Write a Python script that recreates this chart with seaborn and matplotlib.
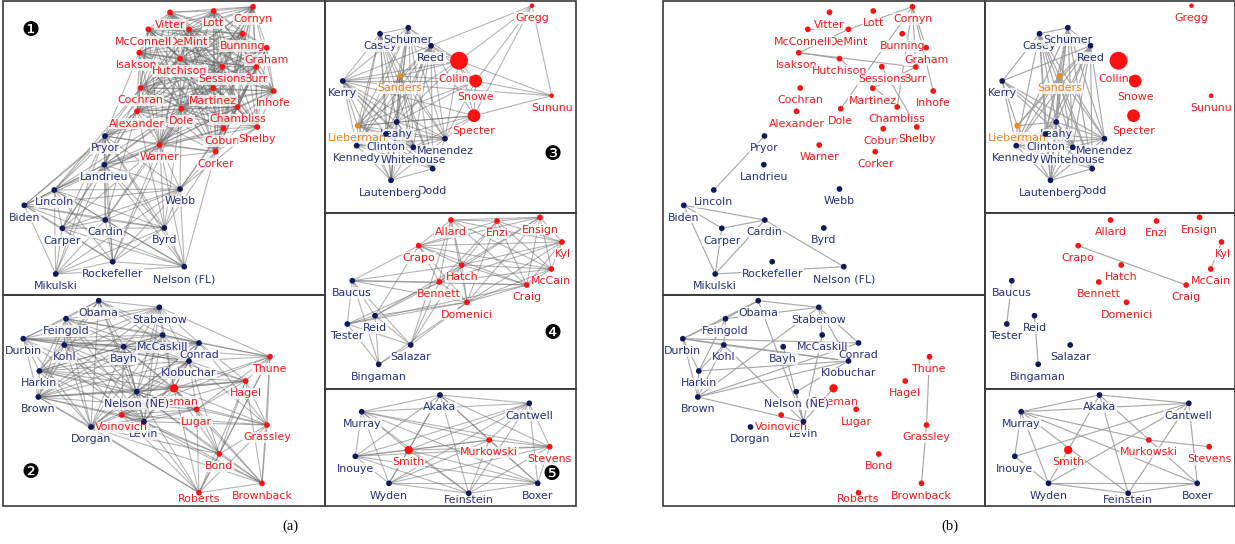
import matplotlib
matplotlib.use("Agg")
import matplotlib.pyplot as plt
import seaborn as sns
import pandas as pd
from itertools import combinations
from matplotlib.collections import LineCollection
from matplotlib.patches import Rectangle

# ---------------------------------------------------------------- node layout
# every cluster: names, x, y (layout units), party  (D / R / I)
c1_names = ["Vitter", "Lott", "Cornyn", "DeMint", "McConnell", "Bunning", "Graham",
            "Isakson", "Hutchison", "Burr", "Sessions", "Cochran", "Martinez", "Inhofe",
            "Alexander", "Dole", "Chambliss", "Coburn", "Shelby", "Warner", "Corker",
            "Pryor", "Landrieu", "Webb", "Lincoln", "Biden", "Cardin", "Carper", "Byrd",
            "Rockefeller", "Nelson (FL)", "Mikulski"]
c1_x = [170.0, 213.7, 253.0, 189.0, 148.3, 242.7, 266.7, 139.3, 180.0, 256.3, 222.3,
        140.7, 213.3, 273.7, 137.0, 181.3, 237.7, 223.7, 257.3, 159.7, 215.7,
        105.0, 104.3, 180.0, 54.3, 24.3, 105.3, 62.3, 164.3, 112.7, 184.3, 55.7]
c1_y = [12.3, 11.0, 6.7, 29.3, 29.3, 33.7, 47.7, 52.7, 58.7, 67.0, 66.7, 88.0, 88.3,
        91.0, 111.3, 108.7, 107.0, 128.7, 127.0, 145.0, 151.7,
        136.0, 164.7, 189.0, 190.0, 205.3, 220.0, 228.3, 228.0, 261.7, 266.7, 274.0]
c1_party = ["R"] * 21 + ["D"] * 11

c2_names = ["Obama", "Stabenow", "Feingold", "McCaskill", "Durbin", "Kohl", "Bayh",
            "Conrad", "Klobuchar", "Harkin", "Coleman", "Nelson (NE)", "Brown", "Levin",
            "Voinovich", "Dorgan", "Thune", "Hagel", "Lugar", "Grassley", "Bond",
            "Brownback", "Roberts"]
c2_x = [98.7, 159.3, 66.0, 162.7, 23.3, 64.3, 123.7, 199.0, 189.0, 39.3, 174.0, 136.7,
        38.3, 144.0, 121.7, 91.0, 270.0, 245.7, 196.7, 267.0, 219.3, 262.0, 199.0]
c2_y = [300.7, 307.3, 318.7, 335.0, 338.7, 345.0, 346.7, 343.0, 361.0, 371.0, 388.3,
        391.7, 397.0, 421.7, 415.0, 427.0, 356.7, 381.0, 409.3, 425.0, 454.0, 483.3, 492.7]
c2_party = ["D"] * 10 + ["R"] + ["D"] * 3 + ["R"] + ["D"] + ["R"] * 7

c3_names = ["Gregg", "Casey", "Schumer", "Reed", "Collins", "Snowe", "Sununu", "Kerry",
            "Sanders", "Specter", "Leahy", "Lieberman", "Clinton", "Menendez",
            "Whitehouse", "Kennedy", "Dodd", "Lautenberg"]
c3_x = [532.0, 380.0, 408.3, 431.0, 459.0, 475.7, 551.7, 342.7, 400.0, 474.0, 396.7,
        357.7, 386.0, 445.0, 413.3, 356.7, 432.7, 391.0]
c3_y = [5.7, 33.7, 27.7, 45.7, 60.7, 81.0, 95.7, 81.0, 76.0, 115.7, 122.0, 125.7,
        134.0, 138.7, 147.3, 145.7, 168.7, 180.3]
c3_party = ["R", "D", "D", "D", "R", "R", "R", "D", "I", "R", "D", "I", "D", "D",
            "D", "D", "D", "D"]

c4_names = ["Allard", "Enzi", "Ensign", "Kyl", "Crapo", "Hatch", "McCain", "Bennett",
            "Craig", "Domenici", "Baucus", "Reid", "Tester", "Salazar", "Bingaman"]
c4_x = [451.0, 497.0, 540.0, 562.0, 418.7, 461.7, 551.3, 439.3, 526.7, 467.0,
        352.3, 375.0, 347.3, 410.7, 378.7]
c4_y = [220.0, 221.0, 217.3, 242.0, 245.7, 265.0, 269.0, 282.0, 285.0, 302.3,
        280.7, 315.7, 324.0, 345.0, 364.3]
c4_party = ["R"] * 10 + ["D"] * 5

c5_names = ["Akaka", "Cantwell", "Murray", "Murkowski", "Stevens", "Smith", "Inouye",
            "Wyden", "Feinstein", "Boxer"]
c5_x = [440.0, 529.3, 361.7, 489.3, 549.7, 408.7, 355.3, 389.0, 468.7, 537.7]
c5_y = [395.0, 403.3, 411.7, 440.0, 446.7, 450.0, 456.3, 483.3, 493.3, 483.3]
c5_party = ["D", "D", "D", "R", "R", "R", "D", "D", "D", "D"]

# node weight classes (drawn as dot size)
node_weight = {"Collins": "xl", "Snowe": "l", "Specter": "l", "Coleman": "m",
               "Smith": "m", "Gregg": "s", "Sununu": "s"}

# ---------------------------------------------------------------- edges
def clique(names):
    return list(combinations(names, 2))

def star(hub, others):
    return [(hub, o) for o in others]

reds1 = c1_names[:21]
blues1 = c1_names[21:]
edges_a = (clique(reds1) + clique(blues1)
           + star("Pryor", ["Alexander", "Cochran", "Dole", "Warner", "Isakson", "Martinez",
                            "Chambliss", "Hutchison", "Corker"])
           + star("Landrieu", ["Alexander", "Cochran", "Dole", "Warner", "Corker", "Coburn",
                               "Martinez", "Chambliss"])
           + star("Webb", ["Warner", "Corker", "Shelby", "Coburn", "Dole", "Chambliss"])
           + star("Lincoln", ["Alexander", "Cochran", "Warner", "Dole"])
           + star("Biden", ["Alexander", "Warner"])
           + star("Byrd", ["Warner", "Dole", "Corker", "Alexander"])
           + star("Cardin", ["Warner", "Dole", "Alexander"])
           + star("Carper", ["Warner", "Alexander"])
           + star("Nelson (FL)", ["Warner", "Corker"])
           + star("Rockefeller", ["Warner", "Dole"]))

blues2 = ["Obama", "Stabenow", "Feingold", "McCaskill", "Durbin", "Kohl", "Bayh", "Conrad",
          "Klobuchar", "Harkin", "Nelson (NE)", "Brown", "Levin", "Dorgan"]
reds2 = ["Coleman", "Voinovich", "Thune", "Hagel", "Lugar", "Grassley", "Bond",
         "Brownback", "Roberts"]
edges_a += (clique(blues2) + clique(reds2)
            + star("Thune", ["Conrad", "Stabenow", "McCaskill", "Durbin", "Klobuchar"])
            + star("Hagel", ["Klobuchar", "Conrad", "Nelson (NE)", "Harkin", "Brown", "Bayh"])
            + star("Coleman", ["Klobuchar", "Conrad", "Nelson (NE)", "Bayh", "McCaskill",
                               "Levin", "Dorgan", "Harkin", "Kohl", "Brown", "Stabenow"])
            + star("Lugar", ["Nelson (NE)", "Levin", "Bayh", "Klobuchar", "Dorgan", "Brown",
                             "Harkin"])
            + star("Voinovich", ["Nelson (NE)", "Levin", "Dorgan", "Brown", "Bayh",
                                 "Klobuchar", "Kohl"])
            + star("Grassley", ["Klobuchar", "Conrad", "Nelson (NE)", "Levin"])
            + star("Bond", ["Dorgan", "Nelson (NE)", "Levin", "Klobuchar"])
            + star("Roberts", ["Dorgan", "Nelson (NE)", "Levin", "Brown"])
            + star("Brownback", ["Nelson (NE)", "Levin", "Dorgan"]))

dems3 = ["Casey", "Schumer", "Reed", "Kerry", "Sanders", "Leahy", "Lieberman", "Clinton",
         "Menendez", "Whitehouse", "Kennedy", "Dodd", "Lautenberg"]
edges_a += (clique(dems3)
            + clique(["Collins", "Snowe", "Specter"])
            + star("Gregg", ["Collins", "Snowe", "Specter", "Sununu", "Reed"])
            + star("Sununu", ["Collins", "Snowe", "Specter", "Kerry"])
            + star("Collins", ["Reed", "Schumer", "Casey", "Kerry", "Sanders", "Leahy",
                               "Menendez", "Lieberman"])
            + star("Snowe", ["Kerry", "Reed", "Leahy", "Lieberman", "Menendez", "Sanders"])
            + star("Specter", ["Kerry", "Lieberman", "Leahy", "Menendez", "Whitehouse",
                               "Kennedy", "Reed"]))

edges_a += (clique(c4_names[:10]) + clique(c4_names[10:])
            + star("Baucus", ["Crapo", "Bennett", "Hatch", "Domenici", "Craig"])
            + star("Reid", ["Bennett", "Domenici", "Hatch", "Crapo"])
            + star("Tester", ["Bennett", "Domenici", "Craig"])
            + star("Salazar", ["Bennett", "Domenici", "Hatch", "Allard"])
            + star("Bingaman", ["Domenici"]))

edges_a += clique(c5_names)

edges_b = [("Cornyn", "DeMint"), ("Cornyn", "Graham"), ("Cornyn", "Burr"),
           ("Cornyn", "Inhofe"), ("Cornyn", "Chambliss"), ("Cornyn", "Dole"),
           ("McConnell", "DeMint"), ("Isakson", "Hutchison"), ("Isakson", "Burr"),
           ("Isakson", "DeMint"), ("Hutchison", "Chambliss"), ("Sessions", "Shelby"),
           ("Martinez", "Burr"), ("Pryor", "Lincoln"), ("Biden", "Cardin"),
           ("Biden", "Carper"), ("Biden", "Mikulski"), ("Carper", "Cardin"),
           ("Carper", "Mikulski"), ("Cardin", "Mikulski"), ("Cardin", "Nelson (FL)"),
           ("Mikulski", "Nelson (FL)"),
           ("Obama", "Feingold"), ("Obama", "Stabenow"), ("Obama", "Durbin"),
           ("Obama", "Levin"), ("Feingold", "Durbin"), ("Feingold", "Kohl"),
           ("Feingold", "Harkin"), ("Feingold", "Stabenow"), ("Durbin", "Kohl"),
           ("Durbin", "Harkin"), ("Durbin", "Brown"), ("Durbin", "Klobuchar"),
           ("Durbin", "Conrad"), ("Kohl", "Harkin"), ("Kohl", "Brown"), ("Kohl", "Levin"),
           ("Kohl", "Klobuchar"), ("Harkin", "Brown"), ("Harkin", "Klobuchar"),
           ("Brown", "Conrad"), ("Brown", "Stabenow"), ("Brown", "Levin"),
           ("Brown", "Klobuchar"), ("Stabenow", "Klobuchar"), ("Stabenow", "Conrad"),
           ("Stabenow", "McCaskill"), ("Bayh", "Levin"), ("Nelson (NE)", "Klobuchar"),
           ("Nelson (NE)", "Levin"), ("Levin", "Coleman"), ("McCaskill", "Levin"),
           ("Thune", "Grassley"), ("Grassley", "Brownback"),
           ("Crapo", "Craig"), ("Kyl", "McCain"), ("Baucus", "Tester"), ("Reid", "Bingaman"),
           ("Murray", "Akaka"), ("Murray", "Cantwell"), ("Akaka", "Cantwell"),
           ("Akaka", "Smith"), ("Akaka", "Feinstein"), ("Akaka", "Boxer"),
           ("Murray", "Inouye"), ("Murray", "Wyden"), ("Murray", "Feinstein"),
           ("Murray", "Boxer"), ("Murray", "Murkowski"), ("Inouye", "Cantwell"),
           ("Inouye", "Wyden"), ("Cantwell", "Wyden"), ("Cantwell", "Feinstein"),
           ("Cantwell", "Boxer"), ("Murkowski", "Stevens"), ("Smith", "Wyden"),
           ("Wyden", "Feinstein"), ("Wyden", "Boxer"), ("Feinstein", "Boxer")]
edges_b += (clique(["Schumer", "Casey", "Reed", "Sanders", "Leahy", "Clinton",
                    "Whitehouse", "Menendez", "Lautenberg", "Dodd", "Kennedy"])
            + star("Kerry", ["Casey", "Reed", "Menendez", "Lieberman", "Kennedy", "Leahy",
                             "Whitehouse"])
            + star("Lieberman", ["Sanders", "Leahy", "Lautenberg", "Kennedy", "Reed"]))

# ---------------------------------------------------------------- tables
frames = []
for names, xs, ys, party in [(c1_names, c1_x, c1_y, c1_party),
                             (c2_names, c2_x, c2_y, c2_party),
                             (c3_names, c3_x, c3_y, c3_party),
                             (c4_names, c4_x, c4_y, c4_party),
                             (c5_names, c5_x, c5_y, c5_party)]:
    frames.append(pd.DataFrame({"name": names, "x": xs, "y": ys, "party": party}))
nodes = pd.concat(frames, ignore_index=True)
nodes["weight"] = nodes["name"].map(node_weight).fillna("n")
pos = {r.name: (r.x, r.y) for r in nodes.itertuples()}

# ---------------------------------------------------------------- style
dot_colors = {"D": "#0f1a5e", "R": "#ff1111", "I": "#ec8a1c"}
text_colors = {"D": "#26307c", "R": "#f21a1a", "I": "#e8861a"}
dot_sizes = {"s": 11, "n": 17, "m": 36, "l": 84, "xl": 165}
label_shift = {"McConnell": (-5, 12.4), "Isakson": (-2.6, 12.3), "Collins": (-2, 18.3),
               "Snowe": (0, 15.7), "Specter": (0, 15.0), "Dodd": (0, 22.0),
               "Clinton": (0, 12.7), "Roberts": (0, 6.6), "Feinstein": (0, 6.7),
               "Coleman": (0, 13.4), "Kyl": (1.3, 12.0)}

sns.set_theme(style="white")
plt.rcParams["font.family"] = ["DejaVu Sans"]

fig = plt.figure(figsize=(12.35, 5.44), dpi=100)
ax = fig.add_axes([0, 0, 1, 1])

panel_shift = {"a": 0.0, "b": 659.5}
panel_edges = {"a": edges_a, "b": edges_b}
# cluster frames: (left, top, right, bottom)
frames_xy = [(3, 1, 325, 295), (3, 295, 325, 506), (325, 1, 575.5, 213),
             (325, 213, 575.5, 389), (325, 389, 575.5, 506)]

for key, dx in panel_shift.items():
    for (l, t, r, b) in frames_xy:
        ax.add_patch(Rectangle((l + dx, t), r - l, b - t, fill=False, ec="#3a3a3a",
                               lw=1.2, zorder=6))
    segs = [[(pos[u][0] + dx, pos[u][1]), (pos[v][0] + dx, pos[v][1])]
            for u, v in panel_edges[key]]
    if key == "a":
        lc = LineCollection(segs, colors="#6a6a6a", linewidths=0.8, alpha=0.5, zorder=1)
    else:
        lc = LineCollection(segs, colors="#9a9a9a", linewidths=0.85, alpha=0.85, zorder=1)
    ax.add_collection(lc)

    for row in nodes.itertuples():
        sx, sy = label_shift.get(row.name, (0, 12.3))
        ax.text(row.x + dx + sx, row.y + sy, row.name, ha="center", va="center",
                fontsize=7.9, color=text_colors[row.party], zorder=3,
                bbox=dict(boxstyle="square,pad=0.06", fc="white", ec="none", alpha=0.75))

    shown = nodes.assign(x=nodes["x"] + dx)
    sns.scatterplot(data=shown, x="x", y="y", hue="party", palette=dot_colors,
                    size="weight", sizes=dot_sizes, edgecolor="none", linewidth=0,
                    legend=False, ax=ax, zorder=4)

ax.set_xlim(0, 1235)
ax.set_ylim(544, 0)
ax.axis("off")

# cluster numbers (left panel only)
for glyph, (gx, gy) in zip(["\u2776", "\u2777", "\u2778", "\u2779", "\u277a"],
                           [(30.7, 30.7), (30.7, 472.7), (552.3, 154.3),
                            (552.3, 333.3), (551.7, 475.0)]):
    ax.text(gx, gy, glyph, ha="center", va="center", fontsize=14.5, color="black", zorder=7)

for txt, px in [("(a)", 290), ("(b)", 950)]:
    ax.text(px, 526.5, txt, ha="center", va="center", fontsize=10.5,
            family="Liberation Serif", color="black")

fig.savefig("out.png", dpi=100, facecolor="white")
